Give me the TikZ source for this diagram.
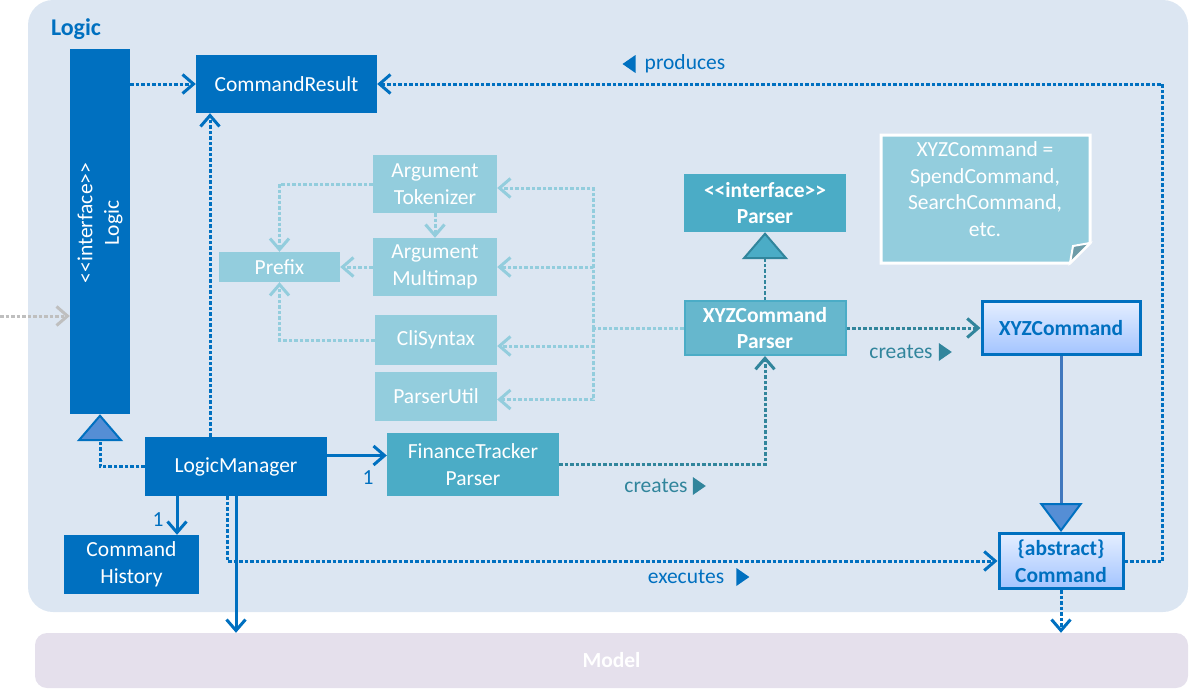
\documentclass[tikz,border=0pt]{standalone}
\usepackage{fontspec}
\setmainfont{Carlito}
\usetikzlibrary{arrows.meta}
\definecolor{logicbg}{HTML}{DCE6F2}
\definecolor{modelbg}{HTML}{E5E0EC}
\definecolor{uiblue}{HTML}{0070C0}
\definecolor{parserteal}{HTML}{4BACC6}
\definecolor{xyzteal}{HTML}{66B7CD}
\definecolor{utilteal}{HTML}{93CDDD}
\definecolor{darkteal}{HTML}{31859C}
\definecolor{extgray}{HTML}{BFBFBF}
\definecolor{trifill}{HTML}{558ED5}
\definecolor{inhline}{HTML}{4178BE}
\definecolor{cmdtop}{HTML}{E4EEFF}
\definecolor{cmdbottom}{HTML}{A3C4FF}
\definecolor{foldteal}{HTML}{6E9CA8}
\newcommand{\dfont}{\fontsize{21.5}{26.5}\selectfont}

\begin{document}
\begin{tikzpicture}[x=1pt,y=-1pt,font=\dfont] \tikzset{>={Straight Barb[length=11pt,width=19pt]},
  cls/.style={rectangle, fill=#1, text=white, inner sep=0pt, align=center},
  abstractcls/.style={rectangle, top color=cmdtop, bottom color=cmdbottom, draw=uiblue, line width=3pt, text=uiblue, inner sep=0pt, align=center, font=\dfont\bfseries},
  dots/.style={draw=#1, line width=3pt, dash pattern=on 3.5pt off 2pt},
  assoc/.style={draw=#1, line width=3pt},
  gen/.style={-{Triangle[length=27pt,width=46pt,line width=2pt,fill=#1]}},
  lbl/.style={text=#1, inner sep=0pt}}
\useasboundingbox (0,0) rectangle (1191,688);
% packages
\node[fill=logicbg, rounded corners=25pt, minimum width=1160pt, minimum height=612pt, inner sep=0pt] (logicpkg) at (608,306) {};
\node[lbl=uiblue, font=\fontsize{24}{28}\selectfont\bfseries] (logictitle) at (76,29) {Logic};
\node[cls=modelbg, minimum width=1153pt, minimum height=55pt, rounded corners=12pt, font=\dfont\bfseries] (model) at (611.5,660.5) {Model};
% note
\fill[utilteal] (881,135) -- (1090,135) -- (1090,243) -- (1070,263) -- (881,263) -- cycle;
\draw[white, line width=3pt] (881,135) -- (1090,135) -- (1090,243) -- (1070,263) -- (881,263) -- cycle;
\filldraw[fill=foldteal, draw=white, line width=2pt] (1070,263) -- (1073,246) -- (1090,243) -- cycle;
\node[lbl=white, align=center] (note) at (985,189) {XYZCommand =\\SpendCommand,\\SearchCommand,\\etc.};
% classes
\node[cls=uiblue, minimum width=60pt, minimum height=365pt] (ilogic) at (100,231.5) {};
\node[lbl=white, rotate=90, align=center] (ilogiclabel) at (100,223) {<{}<interface>{}>\\Logic};
\node[cls=uiblue, minimum width=181pt, minimum height=58pt] (cmdresult) at (286.5,84) {CommandResult};
\node[cls=uiblue, minimum width=182pt, minimum height=59pt] (logicmgr) at (236,466.5) {LogicManager};
\node[cls=uiblue, minimum width=135pt, minimum height=59pt] (cmdhist) at (131.5,564.5) {Command\\History};
\node[cls=parserteal, minimum width=172pt, minimum height=63pt] (ftparser) at (473,464.5) {FinanceTracker\\Parser};
\node[cls=utilteal, minimum width=124pt, minimum height=58pt] (atok) at (435,184) {Argument\\Tokenizer};
\node[cls=utilteal, minimum width=124pt, minimum height=58pt] (amap) at (435,267) {Argument\\Multimap};
\node[cls=utilteal, minimum width=121pt, minimum height=30pt] (prefix) at (279.5,267) {Prefix};
\node[cls=utilteal, minimum width=122pt, minimum height=50pt] (cli) at (436,340) {CliSyntax};
\node[cls=utilteal, minimum width=122pt, minimum height=49pt] (putil) at (436,396.5) {ParserUtil};
\node[cls=parserteal, minimum width=162pt, minimum height=58pt, font=\dfont\bfseries] (iparser) at (765,203) {<{}<interface>{}>\\Parser};
\node[cls=xyzteal, draw=parserteal, line width=2pt, minimum width=161pt, minimum height=54pt, font=\dfont\bfseries] (xyzparser) at (765,328) {XYZCommand\\Parser};
\node[abstractcls, minimum width=158pt, minimum height=53pt] (xyzcmd) at (1061,328) {XYZCommand};
\node[abstractcls, minimum width=124pt, minimum height=55pt] (cmd) at (1061,561) {\{abstract\}\\Command};
% connectors
\coordinate (ext) at (0,316);
\draw[dots=extgray, ->] (ext) -- (ext -| ilogic.west);
\draw[dots=uiblue, ->] (cmdresult.west -| ilogic.east) -- (cmdresult.west);
\draw[dots=uiblue, ->] ([xshift=-26pt]logicmgr.north) -- ([xshift=-26pt]logicmgr.north |- cmdresult.south);
\draw[dots=uiblue, gen=trifill] (logicmgr.west) -| (ilogic.south);
\draw[assoc=uiblue, ->] ([yshift=11pt]logicmgr.east) -- ([yshift=11pt]logicmgr.east -| ftparser.west);
\node[lbl=uiblue] (mult1) at (368,478) {1};
\draw[assoc=uiblue, ->] ([xshift=-59pt]logicmgr.south) -- ([xshift=-59pt]logicmgr.south |- cmdhist.north);
\node[lbl=uiblue] (mult2) at (158,520) {1};
\draw[assoc=uiblue, ->] (logicmgr.south) -- (logicmgr.south |- model.north);
\draw[dots=uiblue, ->] ([xshift=-9pt]logicmgr.south) |- (cmd.west);
\node[lbl=uiblue] (executes) at (686,577) {executes};
\fill[uiblue] ([xshift=12pt]executes.east) ++(0,-9) -- ++(13,9) -- ++(-13,9) -- cycle;
\draw[dots=darkteal, ->] (ftparser.east) -| (xyzparser.south);
\node[lbl=darkteal] (creates1) at (656,486) {creates};
\fill[darkteal] ([xshift=5pt]creates1.east) ++(0,-9) -- ++(13,9) -- ++(-13,9) -- cycle;
\draw[dots=darkteal, ->] (xyzparser.east) -- (xyzcmd.west);
\node[lbl=darkteal] (creates2) at (901,352) {creates};
\fill[darkteal] ([xshift=6pt]creates2.east) ++(0,-9) -- ++(13,9) -- ++(-13,9) -- cycle;
\draw[dots=darkteal, line width=2pt, gen=parserteal] (xyzparser.north) -- (iparser.south);
\draw[assoc=inhline, -{Triangle[length=29pt,width=43pt,line width=2pt,color=uiblue,fill=trifill]}] (xyzcmd.south) -- (cmd.north);
\draw[dots=uiblue, ->] (cmd.east) -- ++(38,0) |- (cmdresult.east);
\node[lbl=uiblue] (produces) at (685,64) {produces};
\fill[uiblue] ([xshift=-9pt]produces.west) ++(0,-9) -- ++(-13,9) -- ++(13,9) -- cycle;
\draw[dots=uiblue, ->] (cmd.south) -- (cmd.south |- model.north);
% parser helpers
\draw[dots=utilteal, ->] (atok.west) -| (prefix.north);
\draw[dots=utilteal, ->] (atok.south) -- (amap.north);
\draw[dots=utilteal, ->] (amap.west) -- (prefix.east);
\draw[dots=utilteal, ->] (cli.west) -| (prefix.south);
\coordinate (hub) at (593,328);
\draw[dots=utilteal] (xyzparser.west) -- (hub);
\foreach \n/\s in {atok/-4,amap/0,cli/-6,putil/-3}
\draw[dots=utilteal, ->] (hub) |- ([yshift=\s pt]\n.east);
\end{tikzpicture}
\end{document}
